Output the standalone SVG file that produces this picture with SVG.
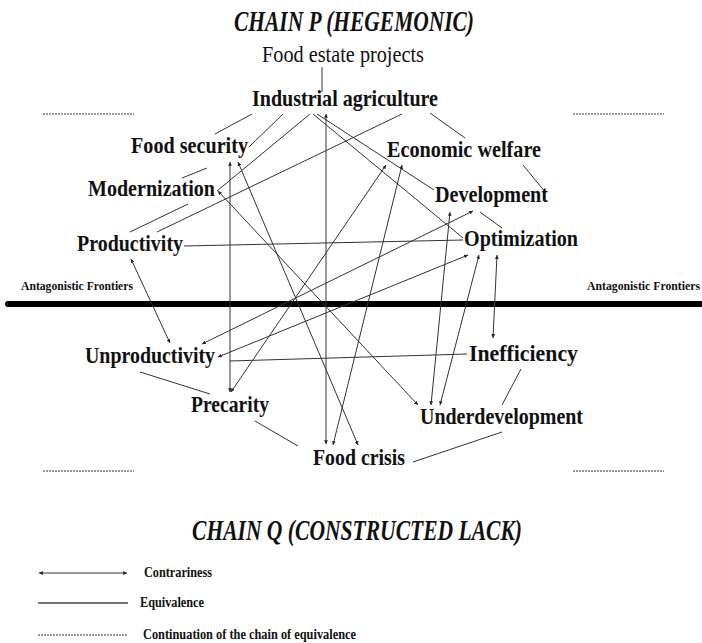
<svg xmlns="http://www.w3.org/2000/svg" width="702" height="643" viewBox="0 0 702 643">
<style>
text{font-family:"Liberation Serif","Times New Roman",serif;fill:#111}
.node{font-size:23px;font-weight:bold}
.title{font-size:30px;font-weight:bold;font-style:italic}
.front{font-size:11.5px;font-weight:bold}
.leg{font-size:14px;font-weight:bold}
.eq{stroke:#333;stroke-width:1;fill:none}
.ct{stroke:#333;stroke-width:1;fill:none;marker-start:url(#ah);marker-end:url(#ah)}
.dot{stroke:#333;stroke-width:1;stroke-dasharray:2 1;fill:none}
</style>
<defs>
<marker id="ah" viewBox="0 0 6 6" refX="6" refY="3" markerWidth="3.8" markerHeight="3.8" markerUnits="userSpaceOnUse" orient="auto-start-reverse">
<path d="M0,0 L6,3 L0,6 z" fill="#222"/>
</marker>
</defs>
<rect width="702" height="643" fill="#fff"/>

<text class="title" x="234" y="31" textLength="240" lengthAdjust="spacingAndGlyphs">CHAIN P (HEGEMONIC)</text>
<text class="title" x="192" y="540" textLength="330" lengthAdjust="spacingAndGlyphs">CHAIN Q (CONSTRUCTED LACK)</text>

<g id="frontier">
<line x1="8" y1="304" x2="705" y2="304" stroke="#000" stroke-width="6" stroke-linecap="round"/>
<text class="front" x="21" y="290" textLength="112" lengthAdjust="spacingAndGlyphs">Antagonistic Frontiers</text>
<text class="front" x="587" y="290" textLength="113" lengthAdjust="spacingAndGlyphs">Antagonistic Frontiers</text>
</g>

<g id="continuations">
<line class="dot" x1="43" y1="114" x2="134" y2="114"/>
<line class="dot" x1="573" y1="114" x2="664" y2="114"/>
<line class="dot" x1="43" y1="471" x2="134" y2="471"/>
<line class="dot" x1="573" y1="471" x2="664" y2="471"/>
</g>

<g id="connectors">
<line class="eq" x1="322" y1="67" x2="322" y2="92"/>
<line class="eq" x1="252" y1="114" x2="215" y2="134"/>
<line class="eq" x1="283" y1="114" x2="249" y2="147"/>
<line class="eq" x1="310" y1="114" x2="217" y2="191"/>
<line class="eq" x1="402" y1="114" x2="157" y2="232"/>
<line class="eq" x1="317" y1="114" x2="434" y2="190"/>
<line class="eq" x1="313" y1="114" x2="463" y2="238"/>
<line class="eq" x1="430" y1="113" x2="465" y2="138"/>
<line class="eq" x1="207" y1="168" x2="182" y2="178"/>
<line class="eq" x1="188" y1="204" x2="130" y2="232"/>
<line class="eq" x1="184" y1="246" x2="463" y2="240"/>
<line class="eq" x1="523" y1="165" x2="546" y2="193"/>
<line class="eq" x1="480" y1="212" x2="502" y2="228"/>
<line class="eq" x1="230" y1="361" x2="467" y2="354"/>
<line class="eq" x1="140" y1="372" x2="210" y2="394"/>
<line class="eq" x1="255" y1="421" x2="298" y2="446"/>
<line class="eq" x1="521" y1="369" x2="502" y2="405"/>
<line class="eq" x1="502" y1="432" x2="413" y2="462"/>

<line class="ct" x1="326" y1="114" x2="326" y2="444"/>
<line class="ct" x1="230" y1="162" x2="230" y2="392"/>
<line class="ct" x1="238" y1="162" x2="358" y2="445"/>
<line class="ct" x1="218" y1="191" x2="418" y2="405"/>
<line class="ct" x1="131" y1="259" x2="170" y2="343"/>
<line class="ct" x1="386" y1="165" x2="231" y2="392"/>
<line class="ct" x1="402" y1="165" x2="333" y2="445"/>
<line class="ct" x1="473" y1="211" x2="202" y2="344"/>
<line class="ct" x1="450" y1="212" x2="431" y2="405"/>
<line class="ct" x1="468" y1="255" x2="218" y2="357"/>
<line class="ct" x1="479" y1="255" x2="440" y2="405"/>
<line class="ct" x1="497" y1="255" x2="493" y2="338"/>
</g>

<g id="food-estate"><text x="262" y="62" style="font-size:23px" textLength="162" lengthAdjust="spacingAndGlyphs">Food estate projects</text></g>
<g id="industrial-agriculture"><text class="node" x="252" y="106" textLength="186" lengthAdjust="spacingAndGlyphs">Industrial agriculture</text></g>
<g id="food-security"><text class="node" x="131" y="153" textLength="117" lengthAdjust="spacingAndGlyphs">Food security</text></g>
<g id="economic-welfare"><text class="node" x="387" y="157" textLength="154" lengthAdjust="spacingAndGlyphs">Economic welfare</text></g>
<g id="modernization"><text class="node" x="88" y="196" textLength="127" lengthAdjust="spacingAndGlyphs">Modernization</text></g>
<g id="development"><text class="node" x="435" y="202" textLength="113" lengthAdjust="spacingAndGlyphs">Development</text></g>
<g id="productivity"><text class="node" x="77" y="251" textLength="106" lengthAdjust="spacingAndGlyphs">Productivity</text></g>
<g id="optimization"><text class="node" x="464" y="246" textLength="114" lengthAdjust="spacingAndGlyphs">Optimization</text></g>
<g id="unproductivity"><text class="node" x="85" y="363" textLength="130" lengthAdjust="spacingAndGlyphs">Unproductivity</text></g>
<g id="inefficiency"><text class="node" x="469" y="361" textLength="109" lengthAdjust="spacingAndGlyphs">Inefficiency</text></g>
<g id="precarity"><text class="node" x="191" y="412" textLength="78" lengthAdjust="spacingAndGlyphs">Precarity</text></g>
<g id="underdevelopment"><text class="node" x="420" y="424" textLength="163" lengthAdjust="spacingAndGlyphs">Underdevelopment</text></g>
<g id="food-crisis"><text class="node" x="313" y="465" textLength="92" lengthAdjust="spacingAndGlyphs">Food crisis</text></g>

<g id="legend">
<line class="ct" x1="39" y1="573" x2="127" y2="573"/>
<text class="leg" x="144" y="577" textLength="68" lengthAdjust="spacingAndGlyphs">Contrariness</text>
<line x1="38" y1="603" x2="128" y2="603" stroke="#444" stroke-width="1.5"/>
<text class="leg" x="140" y="607" textLength="64" lengthAdjust="spacingAndGlyphs">Equivalence</text>
<line class="dot" x1="38" y1="635" x2="128" y2="635"/>
<text class="leg" x="143" y="639" textLength="213" lengthAdjust="spacingAndGlyphs">Continuation of the chain of equivalence</text>
</g>
</svg>
